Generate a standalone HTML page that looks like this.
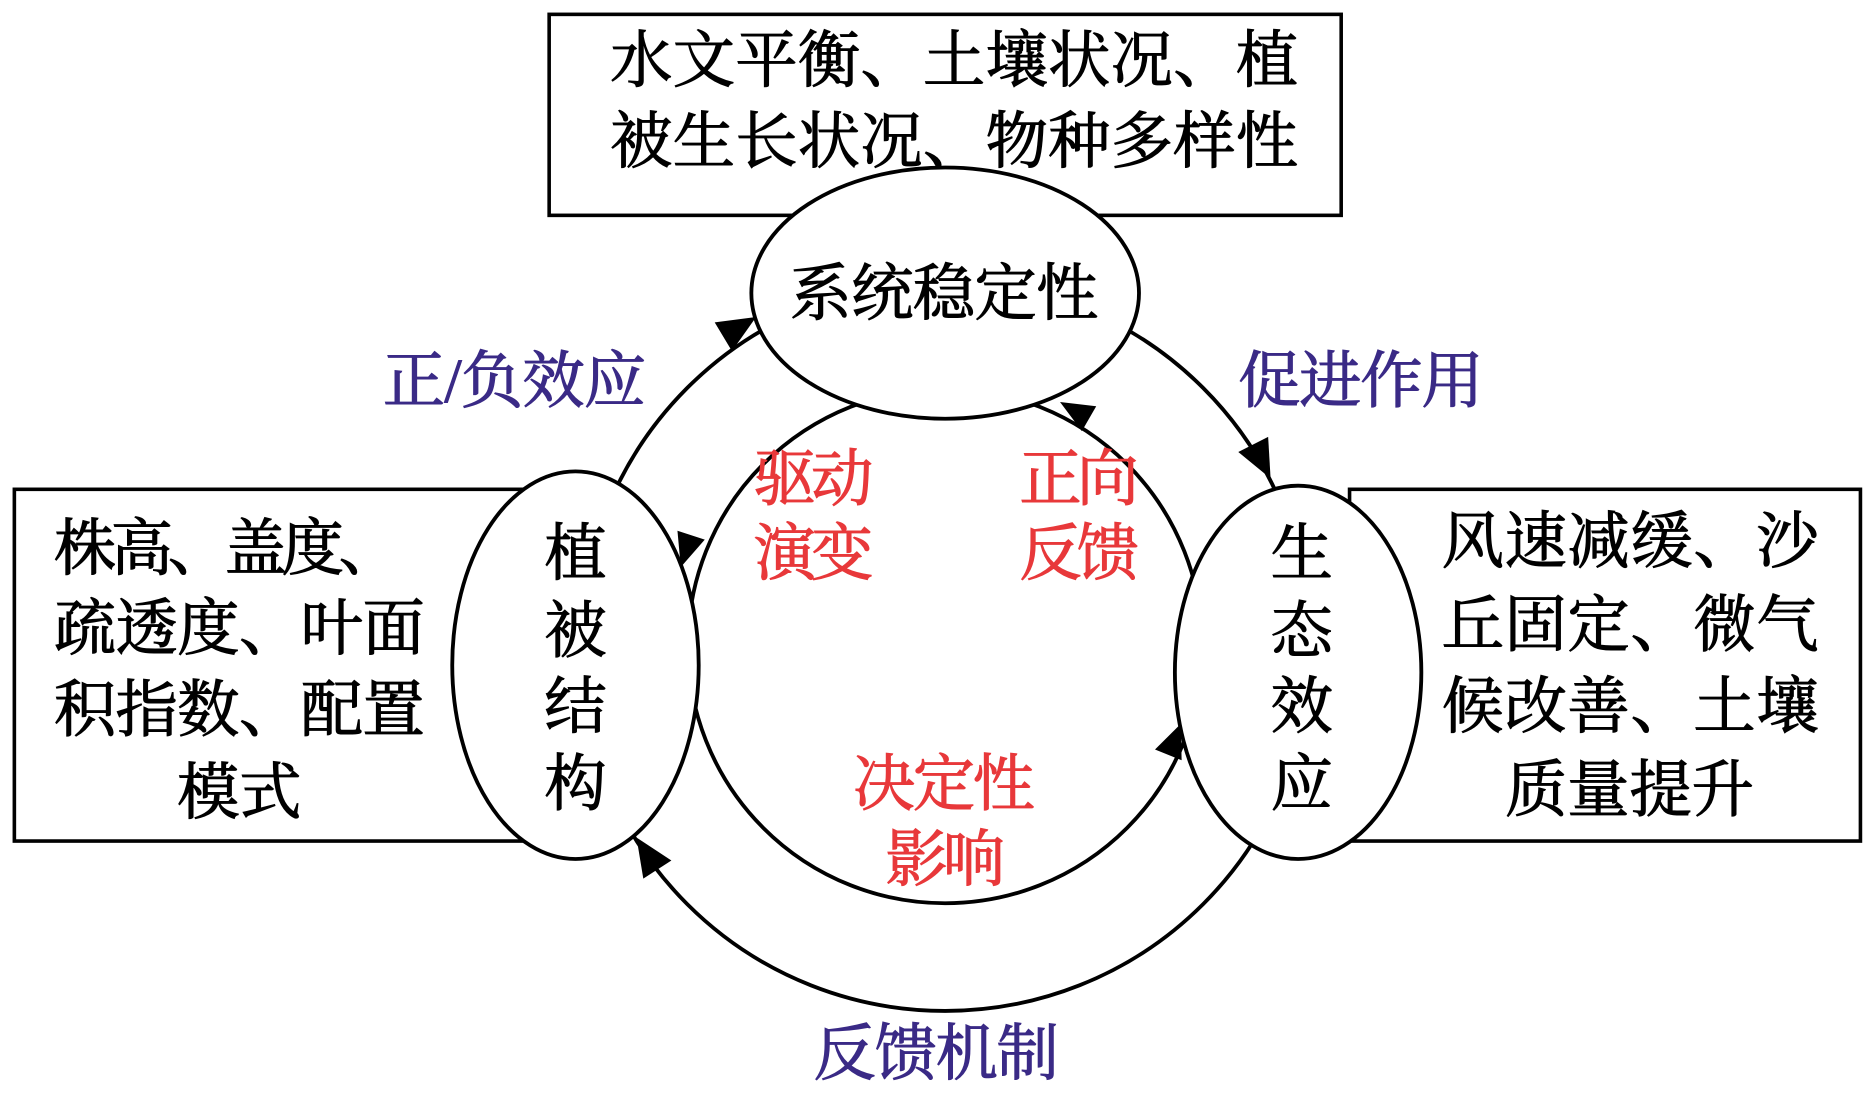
<!DOCTYPE html>
<html><head><meta charset="utf-8"><style>
html,body{margin:0;padding:0;background:#fff;}
svg{display:block;}
text{font-family:"Liberation Serif","Noto Serif CJK SC",serif;font-size:52px;font-weight:normal;stroke-width:0.9px;}
.p{fill:#3a2a86;stroke:#3a2a86;}
.r{fill:#e8383a;stroke:#e8383a;}
.k{fill:#000;stroke:#000;}
</style></head><body>
<svg width="1870" height="1093" viewBox="0 0 1563 913.6" preserveAspectRatio="none" xmlns="http://www.w3.org/2000/svg">
<rect width="1563" height="914" fill="#fff"/>
<circle cx="790" cy="540" r="215" fill="none" stroke="#000" stroke-width="3.2"/>
<circle cx="790" cy="540" r="305" fill="none" stroke="#000" stroke-width="3.2"/>
<rect x="459" y="12" width="662" height="168" fill="#fff" stroke="#000" stroke-width="3"/>
<rect x="12" y="409" width="430" height="294" fill="#fff" stroke="#000" stroke-width="3"/>
<rect x="1128" y="409" width="427" height="294" fill="#fff" stroke="#000" stroke-width="3"/>
<ellipse cx="790" cy="245" rx="162" ry="105" fill="#fff" stroke="#000" stroke-width="3.2"/>
<ellipse cx="481" cy="556" rx="103" ry="162" fill="#fff" stroke="#000" stroke-width="3.2"/>
<ellipse cx="1085" cy="562" rx="103" ry="156" fill="#fff" stroke="#000" stroke-width="3.2"/>
<g fill="#000">
<polygon points="0,0 -32,-14 -32,14" transform="translate(632,265) rotate(-31)"/>
<polygon points="0,0 -32,-14 -32,14" transform="translate(1062,400) rotate(63)"/>
<polygon points="0,0 -32,-14 -32,14" transform="translate(532,700) rotate(-123)"/>
<polygon points="0,0 -28,-12 -28,12" transform="translate(569,474) rotate(108)"/>
<polygon points="0,0 -28,-12 -28,12" transform="translate(886,336) rotate(-150)"/>
<polygon points="0,0 -28,-12 -28,12" transform="translate(987,605) rotate(-68)"/>
</g>
<g class="k">
<text x="510" y="68" textLength="575">水文平衡、土壤状况、植</text>
<text x="510" y="136" textLength="575">被生长状况、物种多样性</text>
<text x="660" y="263" textLength="258">系统稳定性</text>
<text x="45" y="476" textLength="290">株高、盖度、</text>
<text x="45" y="543" textLength="310">疏透度、叶面</text>
<text x="45" y="611" textLength="310">积指数、配置</text>
<text x="200" y="680" text-anchor="middle">模式</text>
<text x="481" y="480" text-anchor="middle">植</text>
<text x="481" y="545" text-anchor="middle">被</text>
<text x="481" y="608" text-anchor="middle">结</text>
<text x="481" y="673" text-anchor="middle">构</text>
<text x="1088" y="480" text-anchor="middle">生</text>
<text x="1088" y="545" text-anchor="middle">态</text>
<text x="1088" y="608" text-anchor="middle">效</text>
<text x="1088" y="673" text-anchor="middle">应</text>
<text x="1205" y="470" textLength="315">风速减缓、沙</text>
<text x="1205" y="540" textLength="315">丘固定、微气</text>
<text x="1205" y="608" textLength="315">候改善、土壤</text>
<text x="1362" y="678" text-anchor="middle">质量提升</text>
</g>
<g class="p">
<text x="320" y="336" textLength="220">正/负效应</text>
<text x="1035" y="336" textLength="205">促进作用</text>
<text x="680" y="898" textLength="205">反馈机制</text>
</g>
<g class="r">
<text x="630" y="418" textLength="100">驱动</text>
<text x="630" y="480" textLength="100">演变</text>
<text x="852" y="418" textLength="100">正向</text>
<text x="852" y="480" textLength="100">反馈</text>
<text x="713" y="673" textLength="152">决定性</text>
<text x="740" y="736" textLength="100">影响</text>
</g>
</svg>
</body></html>
